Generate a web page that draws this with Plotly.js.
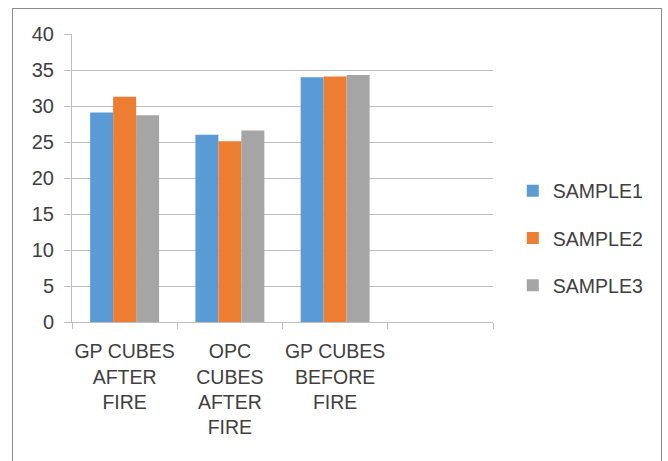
<!DOCTYPE html>
<html>
<head>
<meta charset="utf-8">
<script src="https://cdn.plot.ly/plotly-3.0.1.min.js"></script>
<style>
html,body{margin:0;padding:0;background:#fff;overflow:hidden;}
#wrap{position:relative;width:668px;height:461px;}
#frame{position:absolute;left:12px;top:8px;width:648px;height:480px;border:1.5px solid #8c8c8c;pointer-events:none;}
#chart{position:absolute;left:0;top:0;width:668px;height:461px;}
</style>
</head>
<body>
<div id="wrap"><div id="chart"></div><div id="frame"></div></div>
<script>
var categories = ["GP CUBES<br>AFTER<br>FIRE", "OPC<br>CUBES<br>AFTER<br>FIRE", "GP CUBES<br>BEFORE<br>FIRE", " "];
var sample1 = [29.1, 26.0, 34.0, null];
var sample2 = [31.3, 25.1, 34.1, null];
var sample3 = [28.7, 26.6, 34.3, null];
var seriesNames = ["SAMPLE1", "SAMPLE2", "SAMPLE3"];
var colors = ["#5B9BD5", "#ED7D31", "#A5A5A5"];
var series = [sample1, sample2, sample3];

var traces = series.map(function(vals, i){
  return {
    type: "bar",
    x: categories,
    y: vals,
    name: seriesNames[i],
    legendgroup: "g" + i,
    marker: {color: colors[i], line: {width: 0}},
    hoverinfo: "none"
  };
});

var layout = {
  width: 668, height: 461,
  margin: {l: 72, r: 175, t: 34, b: 139},
  paper_bgcolor: "#ffffff",
  plot_bgcolor: "#ffffff",
  barmode: "group",
  bargap: 0.345,
  bargroupgap: 0,
  font: {family: "Liberation Sans, Arial, sans-serif", size: 19, color: "#404040"},
  showlegend: true,
  legend: {
    x: 1.047, xanchor: "left", y: 0.29, yanchor: "middle",
    font: {size: 19.5, color: "#404040"},
    tracegroupgap: 19,
    itemwidth: 30,
    bgcolor: "rgba(0,0,0,0)"
  },
  xaxis: {
    type: "category",
    categoryorder: "array",
    categoryarray: categories,
    range: [-0.5, 3.5],
    tickson: "boundaries",
    ticks: "outside",
    ticklen: 6,
    tickcolor: "#bfbfbf",
    showline: true,
    linecolor: "#bfbfbf",
    linewidth: 1,
    showgrid: false,
    tickangle: 0,
    tickfont: {size: 19.5, color: "#404040"},
    ticklabelstandoff: 12,
    fixedrange: true
  },
  yaxis: {
    range: [0, 40],
    dtick: 5,
    tick0: 0,
    ticks: "outside",
    ticklen: 7,
    tickcolor: "#bfbfbf",
    showline: true,
    linecolor: "#bfbfbf",
    linewidth: 1,
    showgrid: true,
    gridcolor: "#bfbfbf",
    gridwidth: 1,
    zeroline: false,
    tickfont: {size: 20, color: "#404040"},
    ticklabelstandoff: 6,
    fixedrange: true
  }
};

Plotly.newPlot("chart", traces, layout, {displayModeBar: false, staticPlot: true});
</script>
</body>
</html>
